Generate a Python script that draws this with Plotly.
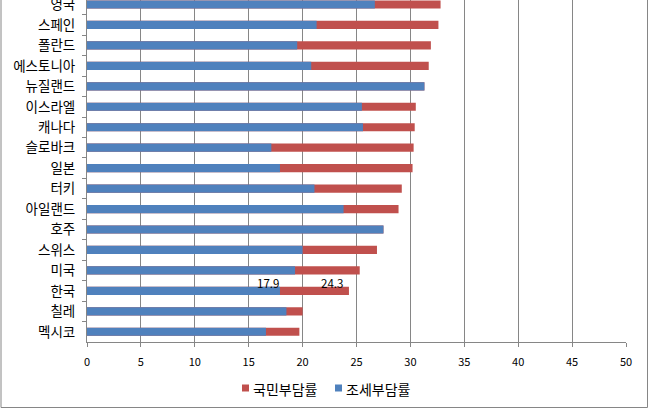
import plotly.graph_objects as go

countries = ["영국", "스페인", "폴란드", "에스토니아", "뉴질랜드", "이스라엘", "캐나다", "슬로바크",
             "일본", "터키", "아일랜드", "호주", "스위스", "미국", "한국", "칠레", "멕시코"]
national_burden = [32.8, 32.6, 31.9, 31.7, 31.3, 30.5, 30.4, 30.3, 30.2, 29.2, 28.9, 27.5, 26.9, 25.3, 24.3, 20.0, 19.7]
tax_burden = [26.7, 21.3, 19.5, 20.8, 31.3, 25.5, 25.6, 17.1, 17.9, 21.1, 23.8, 27.5, 20.0, 19.3, 17.9, 18.5, 16.6]
x_ticks = [0, 5, 10, 15, 20, 25, 30, 35, 40, 45, 50]
series_names = ["국민부담률", "조세부담률"]
series_colors = ["#C0504D", "#4F81BD"]

label_country = "한국"
label_values = [tax_burden[countries.index(label_country)], national_burden[countries.index(label_country)]]

KR = "Noto Sans CJK KR, Noto Sans, sans-serif"
GRID = "#868686"
L, R, T, B, W, H = 87, 23, 0, 67, 649, 409
PW, PH = W - L - R, H - T - B


def px(x):
    return (x - L) / PW


def py(y):
    return (H - B - y) / PH


fig = go.Figure()
fig.add_trace(go.Bar(y=countries, x=national_burden, orientation="h", name=series_names[0],
                     marker=dict(color=series_colors[0], line=dict(width=0)), width=0.4))
fig.add_trace(go.Bar(y=countries, x=tax_burden, orientation="h", name=series_names[1],
                     marker=dict(color=series_colors[1], line=dict(width=0)), width=0.4))

shifts = [-12, -17]
for v, s in zip(label_values, shifts):
    fig.add_annotation(x=v, y=label_country, text=f"{v:.1f}", showarrow=False,
                       xanchor="center", yanchor="middle", xshift=s, yshift=8,
                       font=dict(family=KR, size=11.5, color="#000000"))

# frame
fig.add_shape(type="rect", xref="paper", yref="paper",
              x0=px(1), x1=px(647.5), y0=py(407.5), y1=1.05,
              line=dict(color=GRID, width=1), fillcolor="rgba(0,0,0,0)", layer="below")

# manual legend
legend_x = [242, 335]
for name, col, lx in zip(series_names, series_colors, legend_x):
    fig.add_shape(type="rect", xref="paper", yref="paper",
                  x0=px(lx), x1=px(lx + 7), y0=py(391.5), y1=py(384.5),
                  line=dict(width=0), fillcolor=col)
    fig.add_annotation(xref="paper", yref="paper", x=px(lx + 9), y=py(389), text=name,
                       showarrow=False, xanchor="left", yanchor="middle",
                       font=dict(family=KR, size=14, color="#000000"))

fig.update_layout(
    width=W, height=H,
    margin=dict(l=L, r=R, t=T, b=B, autoexpand=False),
    barmode="overlay",
    plot_bgcolor="white", paper_bgcolor="white",
    showlegend=False,
    xaxis=dict(range=[0, 50], tickvals=x_ticks, showgrid=True, gridcolor=GRID, gridwidth=1,
               showline=True, linecolor=GRID, linewidth=1, ticks="outside", ticklen=4, tickcolor=GRID,
               zeroline=False, ticklabelstandoff=6, tickfont=dict(family=KR, size=11, color="#000000")),
    yaxis=dict(type="category", categoryorder="array", categoryarray=countries,
               range=[16.5, -0.22], showgrid=False, showline=True, linecolor=GRID, linewidth=1,
               ticks="outside", ticklen=4, tickcolor=GRID, tickson="boundaries",
               ticklabelstandoff=8, tickfont=dict(family=KR, size=13.5, color="#000000")),
)

fig.write_html("out.html")
